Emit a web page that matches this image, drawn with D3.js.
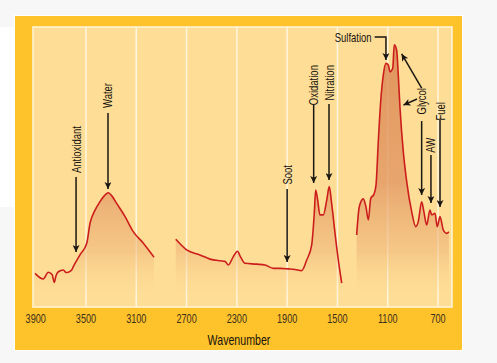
<!DOCTYPE html>
<html>
<head>
<meta charset="utf-8">
<script src="https://cdn.jsdelivr.net/npm/d3@7"></script>
<style>
  html, body { margin: 0; padding: 0; background: #f7f7f7; }
  svg { display: block; }
  text { font-family: "Liberation Sans", Arial, sans-serif; fill: #17130d; }
</style>
</head>
<body>
<svg id="chart" width="497" height="363"></svg>
<script>
// spectrum, split where the trace has gaps: [wavenumber, absorbance]
const segmentHigh = [
  [3905, 12.0], [3840, 10.0], [3800, 12.4], [3770, 11.6], [3752, 8.8], [3739, 11.1],
  [3720, 12.6], [3680, 13.2], [3659, 12.3], [3641, 12.4], [3614, 13.2], [3601, 14.4],
  [3548, 18.6], [3494, 22.8], [3468, 29.9], [3428, 34.6], [3389, 37.6], [3357, 39.6],
  [3322, 40.8], [3293, 39.6], [3256, 37.0], [3189, 32.3], [3124, 26.9], [3044, 22.8],
  [2959, 17.8]
]
const segmentMid = [
  [2786, 24.2], [2699, 20.4], [2593, 18.6], [2514, 17.1], [2434, 16.5], [2394, 16.3],
  [2368, 15.0], [2328, 18.0], [2295, 19.9], [2271, 17.9], [2235, 15.6], [2142, 15.3],
  [2076, 15.0], [2010, 13.8], [1957, 13.8], [1891, 13.6], [1838, 13.4], [1784, 13.0],
  [1744, 16.8], [1705, 22.1], [1684, 33.5], [1673, 41.8], [1657, 38.2], [1639, 32.9],
  [1612, 32.9], [1585, 38.2], [1565, 43.0], [1546, 37.0], [1519, 26.3], [1493, 16.8],
  [1466, 8.5]
]
const segmentLow = [
  [1347, 25.7], [1326, 35.8], [1294, 38.6], [1273, 35.8], [1254, 31.1], [1235, 38.8],
  [1209, 40.3], [1193, 43.6], [1175, 59.0], [1156, 73.3], [1135, 82.9], [1114, 87.0],
  [1095, 86.4], [1082, 84.0], [1060, 85.3], [1048, 93.6], [1029, 91.8], [1016, 82.9],
  [1002, 71.0], [976, 55.5], [949, 44.8], [909, 34.0], [877, 28.7], [857, 30.5],
  [830, 37.6], [812, 34.0], [790, 29.3], [764, 34.6], [750, 32.9], [724, 33.5],
  [706, 28.7], [684, 32.3], [658, 27.5], [631, 26.3], [613, 26.9]
]
const segments = [segmentHigh, segmentMid, segmentLow]

const xTicks = [3900, 3500, 3100, 2700, 2300, 1900, 1500, 1100, 700]
const gridLines = [3500, 3100, 2700, 2300, 1900, 1500, 1100, 700]

// vertical callouts: label, wavenumber, label top / arrow start / arrow tip (absorbance units)
const callouts = [
  { label: 'Antioxidant', wn: 3579, top: 64.6, from: 46.4, to: 19.6 },
  { label: 'Water', wn: 3325, top: 80.0, from: 69.3, to: 42.1 },
  { label: 'Soot', wn: 1900, top: 50.7, from: 42.1, to: 16.1 },
  { label: 'Oxidation', wn: 1689, top: 86.4, from: 72.5, to: 44.3 },
  { label: 'Nitration', wn: 1567, top: 86.4, from: 72.5, to: 45.4 },
  { label: 'Glycol', wn: 830, top: 78.2, from: 66.4, to: 40.0 },
  { label: 'AW', wn: 756, top: 60.4, from: 54.3, to: 37.1 },
  { label: 'Fuel', wn: 684, top: 73.2, from: 66.8, to: 35.7 }
]
const sulfation = { label: 'Sulfation', wn: 1114, level: 96.4, to: 88.2, textEnd: 1228 }
const glycolArrows = [
  { from: [830, 78.2], to: [989, 90.4] },
  { from: [867, 74.3], to: [975, 72.1] }
]

const NARROW = 0.76

const svg = d3.select('#chart')

const panel = { left: 15, top: 16, right: 462, bottom: 350 }
const plot = { left: 33, top: 27, right: 452, bottom: 307 }

const x = d3.scaleLinear().domain([3900, 700]).range([35.7, 438])
const y = d3.scaleLinear().domain([0, 100]).range([plot.bottom, plot.top])

// page backdrop pieces
svg.append('rect').attr('x', 0).attr('y', 27).attr('width', 15).attr('height', 180).attr('fill', '#ffffff')
svg.append('rect')
  .attr('x', panel.left - 1).attr('y', panel.top - 1)
  .attr('width', panel.right - panel.left + 2).attr('height', panel.bottom - panel.top + 2)
  .attr('fill', '#ffffff')
svg.append('rect')
  .attr('x', panel.left).attr('y', panel.top)
  .attr('width', panel.right - panel.left).attr('height', panel.bottom - panel.top)
  .attr('fill', '#fec22a')

svg.append('rect')
  .attr('x', plot.left).attr('y', plot.top)
  .attr('width', plot.right - plot.left).attr('height', plot.bottom - plot.top)
  .attr('fill', '#fedd96')
  .attr('stroke', '#fff4d6')
  .attr('stroke-width', 1.6)

svg.append('g')
  .selectAll('line')
  .data(gridLines)
  .join('line')
  .attr('x1', d => x(d)).attr('x2', d => x(d))
  .attr('y1', plot.top).attr('y2', plot.bottom)
  .attr('stroke', '#fff6de')
  .attr('stroke-width', 1.5)

const defs = svg.append('defs')

const grad = defs.append('linearGradient')
  .attr('id', 'fillGrad')
  .attr('gradientUnits', 'userSpaceOnUse')
  .attr('x1', 0).attr('x2', 0)
  .attr('y1', y(95)).attr('y2', y(3))
grad.append('stop').attr('offset', 0).attr('stop-color', '#d9834f').attr('stop-opacity', 0.8)
grad.append('stop').attr('offset', 0.55).attr('stop-color', '#e0935f').attr('stop-opacity', 0.75)
grad.append('stop').attr('offset', 0.82).attr('stop-color', '#edb277').attr('stop-opacity', 0.5)
grad.append('stop').attr('offset', 1).attr('stop-color', '#fedd96').attr('stop-opacity', 0)

defs.append('marker')
  .attr('id', 'arrow')
  .attr('viewBox', '0 0 10 10')
  .attr('refX', 10).attr('refY', 5)
  .attr('markerUnits', 'userSpaceOnUse')
  .attr('markerWidth', 10).attr('markerHeight', 7)
  .attr('orient', 'auto')
  .append('path')
  .attr('d', 'M0,0 L10,5 L0,10 L2.5,5 Z')
  .attr('fill', '#1a1712')

const area = d3.area()
  .x(d => x(d[0]))
  .y0(y(0))
  .y1(d => y(d[1]))
  .curve(d3.curveMonotoneX)

const line = d3.line()
  .x(d => x(d[0]))
  .y(d => y(d[1]))
  .curve(d3.curveMonotoneX)

const spectrum = svg.append('g')

spectrum.selectAll('path.fill')
  .data(segments)
  .join('path')
  .attr('class', 'fill')
  .attr('d', area)
  .attr('fill', 'url(#fillGrad)')

spectrum.selectAll('path.trace')
  .data(segments)
  .join('path')
  .attr('class', 'trace')
  .attr('d', line)
  .attr('fill', 'none')
  .attr('stroke', '#cc1d1d')
  .attr('stroke-width', 1.6)
  .attr('stroke-linejoin', 'round')

// x axis labels (condensed by a horizontal squeeze, no narrow face installed)
svg.append('g')
  .selectAll('text')
  .data(xTicks)
  .join('text')
  .attr('transform', d => `translate(${ x(d) },322.5) scale(${ NARROW },1)`)
  .attr('text-anchor', 'middle')
  .style('font-size', '12px')
  .style('fill', '#3a2f1d')
  .text(d => d)

svg.append('text')
  .attr('transform', `translate(239,345) scale(${ NARROW },1)`)
  .attr('text-anchor', 'middle')
  .style('font-size', '14px')
  .text('Wavenumber')

// callouts
const notes = svg.append('g')

notes.selectAll('text.callout')
  .data(callouts)
  .join('text')
  .attr('class', 'callout')
  .attr('transform', d => `translate(${ x(d.wn) },${ y(d.top) }) rotate(-90) scale(${ NARROW },1)`)
  .attr('dy', '0.36em')
  .attr('text-anchor', 'end')
  .style('font-size', '12.5px')
  .text(d => d.label)

notes.selectAll('line.callout')
  .data(callouts)
  .join('line')
  .attr('class', 'callout')
  .attr('x1', d => x(d.wn)).attr('x2', d => x(d.wn))
  .attr('y1', d => y(d.from)).attr('y2', d => y(d.to))
  .attr('stroke', '#1a1712')
  .attr('stroke-width', 1.5)
  .attr('marker-end', 'url(#arrow)')

notes.selectAll('line.glycol')
  .data(glycolArrows)
  .join('line')
  .attr('class', 'glycol')
  .attr('x1', d => x(d.from[0])).attr('y1', d => y(d.from[1]))
  .attr('x2', d => x(d.to[0])).attr('y2', d => y(d.to[1]))
  .attr('stroke', '#1a1712')
  .attr('stroke-width', 1.5)
  .attr('marker-end', 'url(#arrow)')

notes.append('text')
  .attr('transform', `translate(${ x(sulfation.textEnd) },${ y(sulfation.level) }) scale(${ NARROW },1)`)
  .attr('dy', '0.36em')
  .attr('text-anchor', 'end')
  .style('font-size', '12.5px')
  .text(sulfation.label)

notes.append('path')
  .attr('d', `M${ x(sulfation.textEnd) + 3 },${ y(sulfation.level) } H${ x(sulfation.wn) } V${ y(sulfation.to) }`)
  .attr('fill', 'none')
  .attr('stroke', '#1a1712')
  .attr('stroke-width', 1.5)
  .attr('marker-end', 'url(#arrow)')
</script>
</body>
</html>
